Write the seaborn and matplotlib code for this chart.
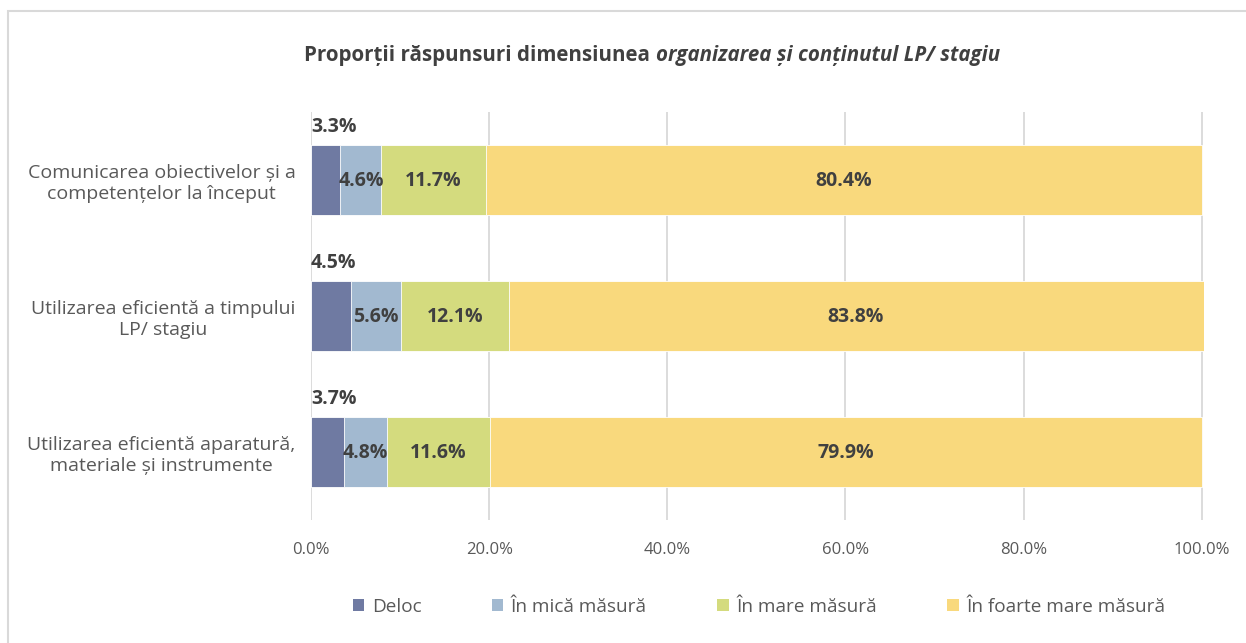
import numpy as np
import pandas as pd
import matplotlib
matplotlib.use('Agg')
import matplotlib.pyplot as plt
import seaborn as sns
from matplotlib.patches import Patch, Rectangle

# date grafic
categories = [
    'Comunicarea obiectivelor și a\ncompetențelor la început',
    'Utilizarea eficientă a timpului\nLP/ stagiu',
    'Utilizarea eficientă aparatură,\nmateriale și instrumente',
]
series = ['Deloc', 'În mică măsură', 'În mare măsură', 'În foarte mare măsură']
deloc = [3.3, 4.5, 3.7]
mica = [4.6, 5.6, 4.8]
mare = [11.7, 12.1, 11.6]
foarte = [80.4, 83.8, 79.9]
colors = ['#6F7AA2', '#A2B9D0', '#D4DB7E', '#F9D97D']
xticks = [0, 20, 40, 60, 80, 100]

sns.set_style('white')
plt.rcParams['font.family'] = ['Open Sans', 'DejaVu Sans']

values = np.array([deloc, mica, mare, foarte])
cum = values.cumsum(axis=0)
df = pd.DataFrame({'categorie': categories})
for i, s in enumerate(series):
    df[s] = cum[i]

fig = plt.figure(figsize=(12.46, 6.43), dpi=100)
ax = fig.add_axes([311 / 1246, 1 - 520 / 643, 893 / 1246, 408 / 643])

# straturi cumulate, de la cel mai lung la cel mai scurt
for i in range(len(series) - 1, -1, -1):
    sns.barplot(data=df, x=series[i], y='categorie', color=colors[i], orient='h',
                width=0.515, saturation=1, edgecolor='white', linewidth=0.6, ax=ax, zorder=2)

xmax = 100.25
ax.set_xlim(0, xmax)
ax.set_ylim(2.5, -0.5)
ax.set_xticks(xticks)
ax.set_xticklabels([f'{t:.1f}%' for t in xticks], color='#595959', fontsize=12)
ax.set_xlabel('')
ax.set_ylabel('')
ax.tick_params(axis='x', length=0, pad=16)
ax.tick_params(axis='y', length=0, pad=11)
for lab in ax.get_yticklabels():
    lab.set_multialignment('center')
    lab.set_color('#595959')
    lab.set_fontsize(14)
ax.grid(axis='x', color='#D9D9D9', linewidth=1.3, zorder=0)
ax.set_axisbelow(True)
for sp in ax.spines.values():
    sp.set_visible(False)

# etichete valori
for j in range(len(categories)):
    ax.text(0, j - 0.39, f'{values[0][j]:.1f}%', ha='left', va='center',
            fontsize=14, fontweight='bold', color='#404040')
    for i in range(1, len(series)):
        left = cum[i - 1][j]
        right = min(cum[i][j], 100)
        ax.text((left + right) / 2, j + 0.01, f'{values[i][j]:.1f}%', ha='center', va='center',
                fontsize=14, fontweight='bold', color='#404040')

# titlu cu parte italica
t1 = fig.text(0, 1 - 56 / 643, 'Proporții răspunsuri dimensiunea ', fontsize=14.8,
              fontweight='bold', color='#404040', va='center')
t2 = fig.text(0, 1 - 56 / 643, 'organizarea și conținutul LP/ stagiu', fontsize=14.8,
              fontweight='bold', style='italic', color='#404040', va='center')
fig.canvas.draw()
r = fig.canvas.get_renderer()
w1 = t1.get_window_extent(r).width
w2 = t2.get_window_extent(r).width
start = 652 - (w1 + w2) / 2
t1.set_x(start / 1246)
t2.set_x((start + w1) / 1246)

handles = [Patch(facecolor=c, edgecolor='none') for c in colors]
fig.legend(handles, series, loc='center', bbox_to_anchor=(759 / 1246, 1 - 607 / 643),
           ncol=4, frameon=False, fontsize=13.7, handlelength=0.6, handleheight=0.6,
           handletextpad=0.4, columnspacing=3.7, labelcolor='#595959')

fig.add_artist(Rectangle((8 / 1246, -0.1), 1.2, 1 - 11 / 643 + 0.1, transform=fig.transFigure,
                         fill=False, edgecolor='#D9D9D9', linewidth=1.5))

fig.savefig('out.png', dpi=100)
